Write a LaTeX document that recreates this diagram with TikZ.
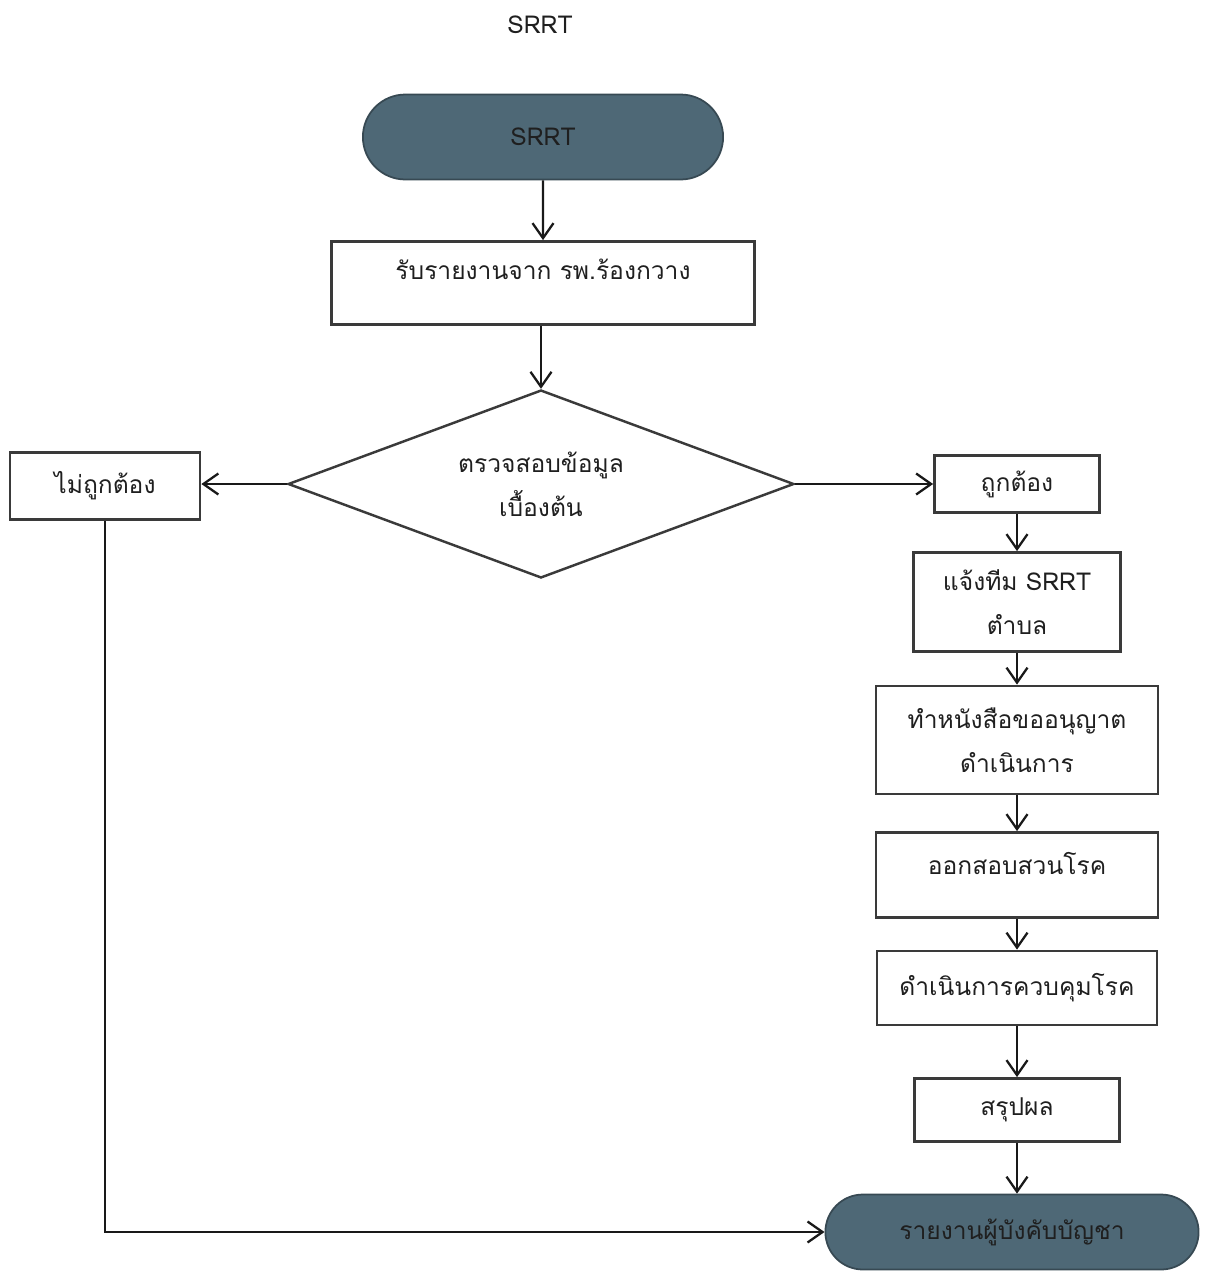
\documentclass[tikz,border=0pt]{standalone}
\usepackage{fontspec}
\setmainfont[Script=Thai]{Loma}
\usepackage{tikz}
\usetikzlibrary{arrows.meta,shapes,calc}

\definecolor{termfill}{HTML}{4E6876}
\definecolor{boxline}{HTML}{3A3A3A}

\begin{document}
\begin{tikzpicture}[x=0.02cm,y=-0.02cm,
    every node/.style={font=\fontsize{14}{25}\selectfont, text=black!88},
    term/.style={rounded rectangle, fill=termfill, draw=termfill!70!black, line width=1pt},
    proc/.style={rectangle, draw=boxline, line width=1.6pt, align=center},
    check/.style={diamond, draw=boxline, line width=1.4pt, align=center, inner sep=0pt, aspect=2.7},
    flow/.style={-{Straight Barb[length=0.3cm,width=0.42cm,line width=1.3pt]}, line width=1.3pt, black!90}]
    \useasboundingbox (0,0) rectangle (1213,1275);
    % Title
    \node (title) at (540,25) {SRRT};
    % Main column
    \node[term, minimum width=7.44cm, minimum height=1.7cm] (start) at (543,137) {SRRT};
    \node[proc, minimum width=8.46cm, minimum height=1.66cm, text depth=0.55cm] (recv) at (543,283) {รับรายงานจาก รพ.ร้องกวาง};
    \node[check, minimum width=10.12cm, minimum height=3.76cm] (chk) at (541,484) {ตรวจสอบข้อมูล\\เบื้องต้น};
    % Left branch
    \node[proc, minimum width=3.8cm, minimum height=1.34cm] (wrong) at (105,486) {ไม่ถูกต้อง};
    % Right branch
    \node[proc, minimum width=3.3cm, minimum height=1.14cm] (right) at (1017,484) {ถูกต้อง};
    \node[proc, minimum width=4.14cm, minimum height=1.98cm] (notify) at (1017,602) {แจ้งทีม SRRT\\ตำบล};
    \node[proc, minimum width=5.64cm, minimum height=2.16cm] (letter) at (1017,740) {ทำหนังสือขออนุญาต\\ดำเนินการ};
    \node[proc, minimum width=5.64cm, minimum height=1.7cm, text depth=0.45cm] (invest) at (1017,875) {ออกสอบสวนโรค};
    \node[proc, minimum width=5.6cm, minimum height=1.48cm] (control) at (1017,988) {ดำเนินการควบคุมโรค};
    \node[proc, minimum width=4.1cm, minimum height=1.26cm] (summary) at (1017,1110) {สรุปผล};
    \node[term, minimum width=7.7cm, minimum height=1.5cm] (report) at (1012,1232) {รายงานผู้บังคับบัญชา};
    % Connectors
    \draw[flow] (start) -- (start |- recv.north);
    \draw[flow] (recv.south -| chk.north) -- (chk.north);
    \draw[flow] (chk.west) -- (chk.west -| wrong.east);
    \draw[flow] (chk.east) -- (right);
    \foreach \a/\b in {right/notify, notify/letter, letter/invest, invest/control, control/summary, summary/report}
      \draw[flow] (\a) -- (\a |- \b.north);
    \draw[flow] (wrong.south) |- (report.west);
\end{tikzpicture}
\end{document}
